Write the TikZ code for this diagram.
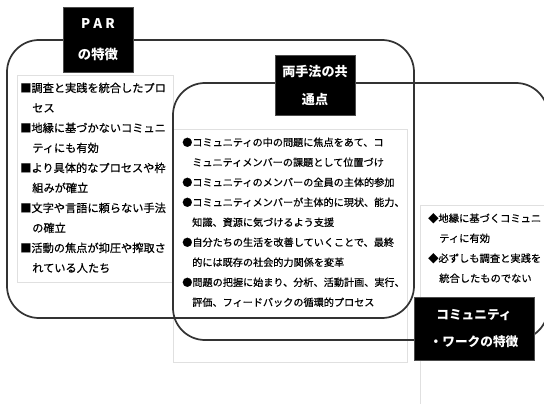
\documentclass[tikz,border=0pt]{standalone}
\usepackage{fontspec}
\setmainfont{Noto Sans CJK JP}
\newfontfamily\bodyfont{Noto Sans CJK JP}[FakeBold=0.5]
\begin{document}
\begin{tikzpicture}[x=0.75pt,y=-0.75pt,
  tbox/.style={draw=black!12, fill=white, line width=0.6pt},
  zone/.style={draw=black!80, line width=1.3pt, rounded corners=24pt},
  lab/.style={fill=black, draw=black!70, text=white, align=center, inner sep=0pt, font=\bfseries},
  ltxt/.style={anchor=west, inner sep=0pt, text height=7.2pt, text depth=1pt, font=\bodyfont\fontsize{8.4}{10}\selectfont},
  mtxt/.style={ltxt, font=\bodyfont\fontsize{7.6}{10}\selectfont},
  rtxt/.style={ltxt, font=\bodyfont\fontsize{7.7}{10}\selectfont}]
\useasboundingbox (0,0) rectangle (544,404);
% text boxes
\draw[tbox] (17,75) rectangle (173,282);
\draw[tbox] (173,129) rectangle (407,362);
\draw[tbox] (420,205) rectangle (560,420);
% zones
\draw[zone] (7,40) rectangle (414,318);
\draw[zone] (173,83) rectangle (548,340);
% left texts
\foreach \xx/\t [count=\i] in {20/■調査と実践を統合したプロ, 32/セス, 20/■地縁に基づかないコミュニ, 32/ティにも有効, 20/■より具体的なプロセスや枠, 32/組みが確立, 20/■文字や言語に頼らない手法, 32/の確立, 20/■活動の焦点が抑圧や搾取さ, 32/れている人たち}
  {\node[ltxt] (L\i) at (\xx,68+20*\i) {\t};}
% middle texts
\foreach \xx/\t [count=\i] in {182/●コミュニティの中の問題に焦点をあて、コ, 192/ミュニティメンバーの課題として位置づけ, 182/●コミュニティのメンバーの全員の主体的参加, 182/●コミュニティメンバーが主体的に現状、能力、, 192/知識、資源に気づけるよう支援, 182/●自分たちの生活を改善していくことで、最終, 192/的には既存の社会的力関係を変革, 182/●問題の把握に始まり、分析、活動計画、実行、, 192/評価、フィードバックの循環的プロセス}
  {\node[mtxt] (M\i) at (\xx,122+20*\i) {\t};}
% right texts
\foreach \xx/\t [count=\i] in {428/◆地縁に基づくコミュニ, 439/ティに有効, 428/◆必ずしも調査と実践を, 439/統合したものでない}
  {\node[rtxt] (R\i) at (\xx,198+20*\i) {\t};}
% labels
\node[lab, minimum width=52.5pt, minimum height=48.75pt, font=\bfseries\fontsize{10}{23}\selectfont] (parlab) at (98,39.5) {P A R\\の特徴};
\node[lab, minimum width=60pt, minimum height=45pt, font=\bfseries\fontsize{9.8}{21}\selectfont] (comlab) at (315,85) {両手法の共\\通点};
\node[lab, minimum width=90pt, minimum height=47pt, font=\bfseries\fontsize{9.5}{20}\selectfont] (cwlab) at (474,328.5) {コミュニティ\\・ワークの特徴};
\end{tikzpicture}
\end{document}
